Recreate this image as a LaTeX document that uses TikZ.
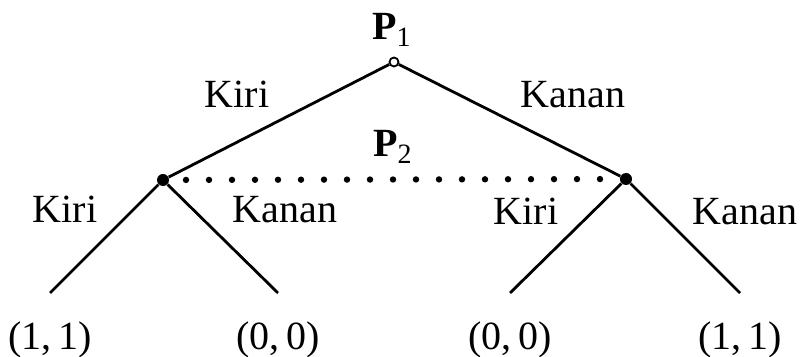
\documentclass[tikz,border=0pt]{standalone}
\usepackage{fontspec}
\setmainfont{Liberation Serif}
\usetikzlibrary{positioning}

\begin{document}
\begin{tikzpicture}[
    x=0.5pt, y=-0.5pt,
    every node/.style={font=\fontsize{20}{24}\selectfont},
    root/.style={circle, draw, fill=white, line width=0.9pt, inner sep=0pt, minimum size=4.5pt},
    dec/.style={circle, fill=black, inner sep=0pt, minimum size=6pt},
    lbl/.style={anchor=base, inner sep=0pt},
    pay/.style={anchor=north, inner sep=0pt},
    branch/.style={line width=1.4pt},
    info/.style={line width=3.2pt, line cap=round, dash pattern=on 0pt off 11.5pt},
    node distance=14pt
]
\useasboundingbox (0,0) rectangle (802,357);

\node[root] (p1) at (394,62) {};
\node[dec] (kiri) at (163,180) {};
\node[dec] (kanan) at (626,179) {};
\coordinate (l1) at (50,293);
\coordinate (l2) at (278,293);
\coordinate (l3) at (510,293);
\coordinate (l4) at (740,293);

\node[lbl] (tp1) at (392,40) {\textbf{P}\textsubscript{1}};
\node[lbl] (tp2) at (393,157) {\textbf{P}\textsubscript{2}};
\node[lbl] (a1) at (237,108) {Kiri};
\node[lbl] (a2) at (573,108) {Kanan};
\node[lbl] (b1) at (65,223) {Kiri};
\node[lbl] (b2) at (285,223) {Kanan};
\node[lbl] (b3) at (526,225) {Kiri};
\node[lbl] (b4) at (745,225) {Kanan};

\node[pay, below=of l1] (u1) {(1,\,1)};
\node[pay, below=of l2] (u2) {(0,\,0)};
\node[pay, below=of l3] (u3) {(0,\,0)};
\node[pay, below=of l4] (u4) {(1,\,1)};

\draw[branch] (p1) -- (kiri);
\draw[branch] (p1) -- (kanan);
\draw[branch] (kiri) -- (l1);
\draw[branch] (kiri) -- (l2);
\draw[branch] (kanan) -- (l3);
\draw[branch] (kanan) -- (l4);
\draw[info] (kiri.center) -- (kanan.center);

\end{tikzpicture}
\end{document}
